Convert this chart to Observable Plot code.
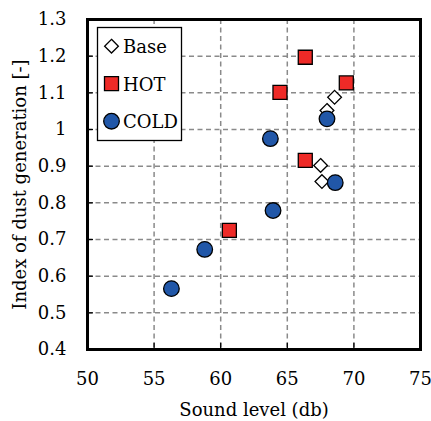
<!DOCTYPE html>
<html>
<head>
<meta charset="utf-8">
<script src="https://cdn.jsdelivr.net/npm/d3@7"></script>
<script src="https://cdn.jsdelivr.net/npm/@observablehq/plot@0.6"></script>
<style>
  html, body { margin: 0; padding: 0; background: #fff; }
</style>
</head>
<body>
<div id="chart"></div>
<script>
// Sound level (dB) vs. index of dust generation, three operating conditions
const seriesNames = ["Base", "HOT", "COLD"];

const baseSound = [68.55, 67.98, 67.5, 67.6];
const baseIndex = [1.088, 1.052, 0.902, 0.858];

const hotSound = [66.35, 69.43, 64.45, 66.35, 60.65];
const hotIndex = [1.197, 1.127, 1.101, 0.916, 0.725];

const coldSound = [67.98, 63.73, 68.6, 63.93, 58.8, 56.3];
const coldIndex = [1.029, 0.975, 0.855, 0.779, 0.673, 0.566];

const xTicks = [50, 55, 60, 65, 70, 75];
const yTicks = [0.4, 0.5, 0.6, 0.7, 0.8, 0.9, 1.0, 1.1, 1.2, 1.3];
const xTitle = "Sound level (db)";
const yTitle = "Index of dust generation [-]";

const font = "DejaVu Serif";
const fontSize = 18;

const styles = {
  Base: {symbol: "diamond2", r: 6.2, fill: "white"},
  HOT:  {symbol: "square",   r: 7.9, fill: "#ee2a27"},
  COLD: {symbol: "circle",   r: 7.8, fill: "#2157a8"}
};

const toRows = (xs, ys, name) => xs.map((x, i) => ({name, sound: x, index: ys[i]}));
const series = [
  toRows(baseSound, baseIndex, "Base"),
  toRows(hotSound, hotIndex, "HOT"),
  toRows(coldSound, coldIndex, "COLD")
];

const gridStyle = {stroke: "#8a8a8a", strokeOpacity: 1, strokeWidth: 1.5, strokeDasharray: "5,3.5"};
const fmt = d3.format("~g");

// legend: boxed list in the upper-left corner of the frame
const legendMarks = [
  Plot.frame({insetLeft: 10, insetTop: 8, insetRight: 239, insetBottom: 209,
              fill: "white", stroke: "black", strokeWidth: 1.3}),
  ...seriesNames.flatMap((name, i) => [
    Plot.dot([name], {frameAnchor: "top-left", dx: 24, dy: 26.7 + i * 37.5,
      symbol: styles[name].symbol, r: styles[name].r, fill: styles[name].fill,
      stroke: "black", strokeWidth: 1.3}),
    Plot.text([name], {frameAnchor: "top-left", dx: 35.5, dy: 27.9 + i * 37.5,
      text: d => d, textAnchor: "start", lineAnchor: "middle",
      fontFamily: font, fontSize: fontSize, fill: "black"})
  ])
];

const chart = Plot.plot({
  width: 431,
  height: 421,
  marginLeft: 87,
  marginRight: 11,
  marginTop: 19,
  marginBottom: 72,
  style: {fontFamily: font, fontSize: fontSize + "px", color: "black", background: "white"},
  x: {domain: [50, 75]},
  y: {domain: [0.4, 1.3]},
  marks: [
    Plot.gridX(xTicks.slice(1, -1), gridStyle),
    Plot.gridY(yTicks.slice(1, -1), gridStyle),
    // inward tick marks
    Plot.axisX(xTicks, {anchor: "bottom", tickSize: -6, fill: "none", stroke: "black", strokeWidth: 1.3, label: null}),
    Plot.axisY(yTicks, {anchor: "left", tickSize: -6, fill: "none", stroke: "black", strokeWidth: 1.3, label: null}),
    // tick labels
    Plot.axisX(xTicks, {anchor: "bottom", tickSize: 0, tickPadding: 23, tickFormat: fmt, label: null, fontSize: fontSize}),
    Plot.axisY(yTicks, {anchor: "left", tickSize: 0, tickPadding: 21, tickFormat: fmt, label: null, fontSize: fontSize}),
    // axis titles
    Plot.text([xTitle], {frameAnchor: "bottom", dy: 61, text: d => d, textAnchor: "middle", lineAnchor: "middle",
      fontFamily: font, fontSize: fontSize, fill: "black"}),
    Plot.text([yTitle], {frameAnchor: "left", dx: -67, text: d => d, rotate: -90,
      textAnchor: "middle", lineAnchor: "middle",
      fontFamily: font, fontSize: fontSize, fill: "black"}),
    ...legendMarks,
    ...series.map(rows => Plot.dot(rows, {
      x: "sound", y: "index",
      symbol: styles[rows[0].name].symbol,
      r: styles[rows[0].name].r,
      fill: styles[rows[0].name].fill,
      stroke: "black", strokeWidth: 1.3
    })),
    Plot.frame({stroke: "black", strokeWidth: 3})
  ]
});

document.getElementById("chart").appendChild(chart);
</script>
</body>
</html>
